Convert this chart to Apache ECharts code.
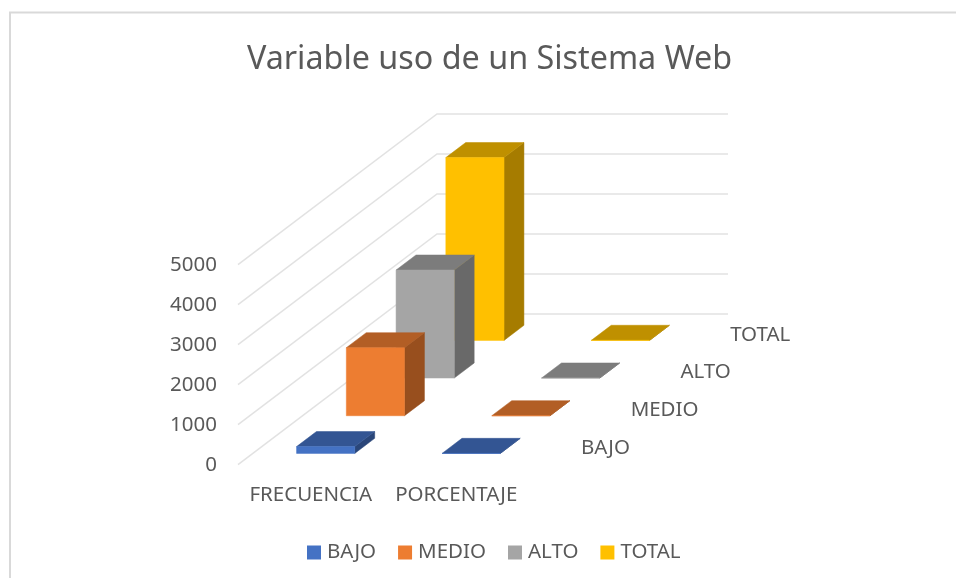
<!DOCTYPE html>
<html lang="en">

<head>
    <meta charset="UTF-8">
    <title>Variable uso de un Sistema Web</title>
    <style>
        html,
        body {
            height: 100%;
            width: 100%;
            margin: 0;
            background: #fff;
        }
    </style>
</head>

<body>
    <div id="main" style="width: 956px;height:578px;"></div>
    <script src="https://cdn.jsdelivr.net/npm/echarts@6/dist/echarts.min.js"></script>
    <script type="text/javascript">
        var categories = ['FRECUENCIA', 'PORCENTAJE'];
        var seriesNames = ['BAJO', 'MEDIO', 'ALTO', 'TOTAL'];
        var bajo = [170, 0.04];
        var medio = [1700, 0.37];
        var alto = [2700, 0.59];
        var total = [4570, 1];
        var yTicks = [0, 1000, 2000, 3000, 4000, 5000];

        var frontColors = ['#4472C4', '#ED7D31', '#A5A5A5', '#FFC000'];
        var topColors = ['#335593', '#B25E25', '#7C7C7C', '#BF9000'];
        var sideColors = ['#2A4679', '#984F1E', '#696969', '#A67C00'];

        var FONT = 'Noto Sans';
        var TEXT = '#595959';
        // how far one series slot moves on screen going back into the chart
        var DEPTH_DX = 49.75;
        var DEPTH_DY = -37.67;
        var BAR_WIDTH = 0.4;

        function project(api, cat, catShift, value, depth) {
            var p = api.coord([cat, value]);
            var band = api.size([1, 0])[0];
            return [p[0] + catShift * band + DEPTH_DX * depth, p[1] + DEPTH_DY * depth];
        }

        function barItem(s) {
            return function (params, api) {
                var cat = api.value(0);
                var v = api.value(1);
                var x0 = -BAR_WIDTH / 2, x1 = BAR_WIDTH / 2;
                var d0 = s + 0.3, d1 = s + 0.7;
                function face(pts, color) {
                    return {
                        type: 'polygon',
                        shape: { points: pts },
                        style: { fill: color, stroke: color, lineWidth: 0.5 }
                    };
                }
                return {
                    type: 'group',
                    children: [
                        face([project(api, cat, x1, 0, d0), project(api, cat, x1, 0, d1), project(api, cat, x1, v, d1), project(api, cat, x1, v, d0)], sideColors[s]),
                        face([project(api, cat, x0, v, d0), project(api, cat, x1, v, d0), project(api, cat, x1, v, d1), project(api, cat, x0, v, d1)], topColors[s]),
                        face([project(api, cat, x0, 0, d0), project(api, cat, x1, 0, d0), project(api, cat, x1, v, d0), project(api, cat, x0, v, d0)], frontColors[s])
                    ]
                };
            };
        }

        function wallItem(params, api) {
            var v = api.value(1);
            return {
                type: 'polyline',
                shape: {
                    points: [
                        project(api, 0, -0.5, v, 0),
                        project(api, 0, -0.5, v, seriesNames.length),
                        project(api, categories.length - 1, 0.5, v, seriesNames.length)
                    ]
                },
                style: { stroke: '#E2E2E2', lineWidth: 1.5, fill: null }
            };
        }

        function depthLabelItem(params, api) {
            var s = api.value(0);
            var p = project(api, categories.length - 1, 0.5, 0, s + 0.5);
            return {
                type: 'text',
                x: p[0] + 27,
                y: p[1] + 2,
                style: {
                    text: seriesNames[s],
                    fill: TEXT,
                    font: '20.5px "' + FONT + '"',
                    align: 'left',
                    verticalAlign: 'middle'
                }
            };
        }

        var barValues = [bajo, medio, alto, total];
        var series = [{
            type: 'custom',
            renderItem: wallItem,
            silent: true,
            z: 1,
            data: yTicks.map(function (v) { return [0, v]; })
        }, {
            type: 'custom',
            renderItem: depthLabelItem,
            silent: true,
            z: 1,
            encode: { x: 0, y: 1 },
            data: seriesNames.map(function (n, i) { return [i, 0]; })
        }];
        seriesNames.forEach(function (name, s) {
            series.push({
                name: name,
                type: 'custom',
                renderItem: barItem(s),
                itemStyle: { color: frontColors[s] },
                z: 10 - s,
                data: barValues[s].map(function (v, c) { return [c, v]; })
            });
        });

        var myChart = echarts.init(document.getElementById('main'));
        var option = {
            animation: false,
            backgroundColor: '#fff',
            graphic: [{
                type: 'rect',
                silent: true,
                shape: { x: 10, y: 12.5, width: 1200, height: 800 },
                style: { fill: null, stroke: '#D9D9D9', lineWidth: 2 }
            }],
            title: {
                text: 'Variable uso de un Sistema Web',
                left: 484.5,
                top: 39,
                textAlign: 'center',
                textStyle: { fontFamily: FONT, fontSize: 32.3, fontWeight: 'normal', color: TEXT }
            },
            legend: {
                data: seriesNames,
                left: 302,
                top: 537,
                icon: 'rect',
                itemWidth: 14,
                itemHeight: 14,
                itemGap: 22,
                selectedMode: false,
                textStyle: { fontFamily: FONT, fontSize: 20.5, color: TEXT, padding: [0, 0, 0, 1] }
            },
            grid: { left: 238, top: 264.7, width: 291, height: 200 },
            xAxis: {
                type: 'category',
                data: categories,
                axisLine: { show: false },
                axisTick: { show: false },
                axisLabel: { margin: 20, interval: 0, fontFamily: FONT, fontSize: 20.5, color: TEXT }
            },
            yAxis: {
                type: 'value',
                min: 0,
                max: 5000,
                interval: 1000,
                splitLine: { show: false },
                axisLine: { show: false },
                axisTick: { show: false },
                axisLabel: {
                    margin: 21,
                    fontFamily: FONT,
                    fontSize: 20.5,
                    color: TEXT,
                    formatter: function (v) { return String(v); }
                }
            },
            series: series
        };
        myChart.setOption(option);
    </script>
</body>

</html>
